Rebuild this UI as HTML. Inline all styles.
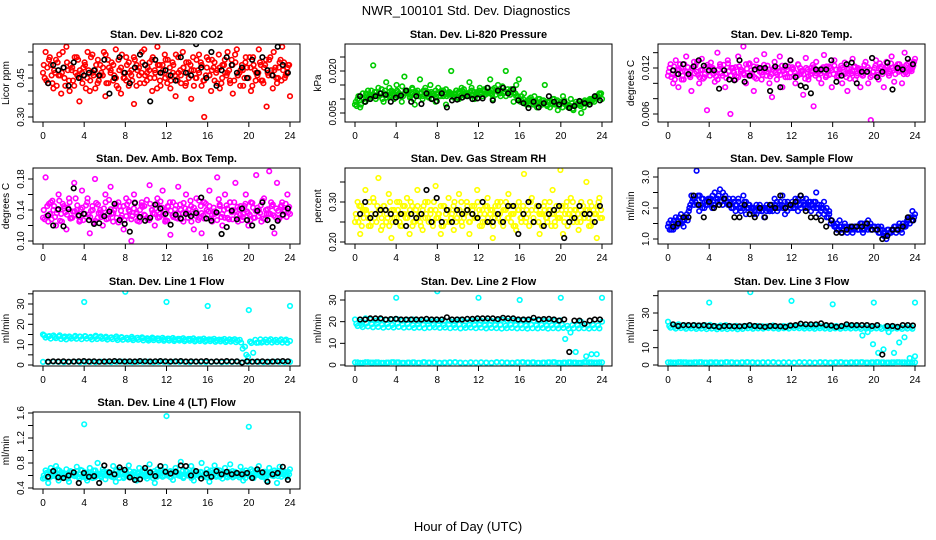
<!DOCTYPE html>
<html><head><meta charset="utf-8">
<style>
html,body{margin:0;padding:0;background:#fff;}
svg{display:block;font-family:"Liberation Sans",Arial,sans-serif;}
</style></head>
<body>
<svg id="chart" width="936" height="540" viewBox="0 0 936 540">
<rect width="936" height="540" fill="#fff"/>
<text x="466" y="15" font-size="13" text-anchor="middle">NWR_100101  Std. Dev. Diagnostics</text>
<text x="468" y="531" font-size="13" text-anchor="middle">Hour of Day (UTC)</text>
</svg>
<script>
// ---- data ----
const xTicks = [0,4,8,12,16,20,24];

const co2Red = [0.47,0.55,0.43,0.50,0.41,0.52,0.46,0.39,0.49,0.57,0.44,0.48,0.42,0.53,0.36,0.47,0.51,0.45,0.40,0.54,0.48,0.43,0.50,0.46,0.38,0.52,0.47,0.44,0.56,0.41,0.49,0.45,0.53,0.42,0.48,0.35,0.50,0.46,0.55,0.43,0.47,0.51,0.40,0.48,0.57,0.44,0.50,0.45,0.52,0.41,0.47,0.38,0.53,0.46,0.49,0.43,0.51,0.37,0.48,0.45,0.54,0.42,0.30,0.49,0.46,0.52,0.44,0.48,0.41,0.50,0.47,0.55,0.43,0.39,0.51,0.46,0.48,0.42,0.53,0.45,0.40,0.50,0.47,0.56,0.44,0.49,0.34,0.52,0.46,0.48,0.43,0.51,0.57,0.45,0.49,0.38];
const co2Red2 = [0.50,0.44,0.52,0.46,0.48,0.42,0.54,0.47,0.45,0.51,0.40,0.49,0.53,0.46,0.48,0.43,0.50,0.55,0.44,0.47,0.41,0.52,0.46,0.49,0.54,0.43,0.48,0.50,0.45,0.52,0.39,0.47,0.44,0.51,0.46,0.53,0.42,0.49,0.47,0.56,0.44,0.48,0.52,0.45,0.41,0.50,0.47,0.54,0.43,0.49,0.51,0.46,0.44,0.48,0.55,0.42,0.47,0.50,0.53,0.45,0.48,0.51,0.44,0.46,0.52,0.40,0.49,0.47,0.54,0.43,0.50,0.46,0.48,0.52,0.44,0.56,0.47,0.50,0.45,0.49,0.53,0.42,0.48,0.46,0.51,0.44,0.50,0.47,0.53,0.41,0.49,0.45,0.52,0.48,0.46,0.50];
const co2Red3 = [0.45,0.49,0.53,0.43,0.47,0.51,0.46,0.55,0.42,0.48,0.50,0.44,0.47,0.52,0.45,0.49,0.41,0.48,0.53,0.46,0.50,0.44,0.47,0.55,0.43,0.49,0.51,0.46,0.42,0.48,0.54,0.45,0.50,0.47,0.44,0.52,0.48,0.43,0.51,0.46,0.49,0.45,0.53,0.47,0.50,0.42,0.48,0.52,0.46,0.44,0.50,0.54,0.47,0.43,0.49,0.51,0.45,0.48,0.42,0.52,0.47,0.50,0.44,0.53,0.46,0.48,0.51,0.43,0.49,0.45,0.52,0.47,0.44,0.50,0.54,0.46,0.42,0.48,0.51,0.45,0.49,0.53,0.44,0.47,0.50,0.43,0.52,0.46,0.48,0.55,0.45,0.49,0.44,0.51,0.47,0.50];
const co2Black = [0.43,0.50,0.48,0.49,0.42,0.51,0.45,0.46,0.47,0.48,0.46,0.52,0.39,0.45,0.53,0.47,0.43,0.49,0.54,0.50,0.36,0.52,0.47,0.48,0.46,0.44,0.53,0.47,0.46,0.58,0.49,0.45,0.55,0.42,0.48,0.53,0.50,0.47,0.49,0.45,0.52,0.47,0.53,0.48,0.46,0.57,0.50,0.47];
const co2Ticks = [0.30,0.35,0.40,0.45,0.50,0.55];
const co2Labels = ["0.30","","","0.45","",""];

const presGreen = [0.0080,0.0100,0.0070,0.0120,0.0090,0.0130,0.0110,0.0220,0.0100,0.0140,0.0120,0.0090,0.0160,0.0110,0.0130,0.0100,0.0150,0.0120,0.0090,0.0180,0.0130,0.0110,0.0140,0.0080,0.0120,0.0170,0.0100,0.0130,0.0110,0.0150,0.0120,0.0090,0.0140,0.0110,0.0130,0.0080,0.0120,0.0200,0.0110,0.0130,0.0100,0.0140,0.0120,0.0110,0.0160,0.0130,0.0100,0.0120,0.0140,0.0110,0.0130,0.0120,0.0170,0.0100,0.0130,0.0150,0.0110,0.0140,0.0200,0.0120,0.0130,0.0090,0.0150,0.0170,0.0110,0.0120,0.0080,0.0100,0.0090,0.0110,0.0070,0.0100,0.0080,0.0150,0.0090,0.0070,0.0100,0.0080,0.0060,0.0090,0.0110,0.0080,0.0070,0.0100,0.0060,0.0090,0.0080,0.0050,0.0070,0.0090,0.0080,0.0100,0.0090,0.0110,0.0120,0.0100];
const presGreen2 = [0.0090,0.0110,0.0080,0.0100,0.0120,0.0105,0.0130,0.0115,0.0125,0.0110,0.0135,0.0120,0.0105,0.0140,0.0125,0.0115,0.0130,0.0110,0.0145,0.0120,0.0125,0.0105,0.0135,0.0115,0.0130,0.0120,0.0110,0.0140,0.0125,0.0115,0.0100,0.0130,0.0120,0.0125,0.0110,0.0135,0.0115,0.0120,0.0105,0.0130,0.0125,0.0115,0.0135,0.0120,0.0110,0.0140,0.0125,0.0115,0.0130,0.0120,0.0135,0.0140,0.0125,0.0115,0.0140,0.0130,0.0120,0.0145,0.0125,0.0135,0.0115,0.0130,0.0120,0.0110,0.0090,0.0100,0.0085,0.0095,0.0105,0.0080,0.0090,0.0100,0.0085,0.0095,0.0080,0.0090,0.0085,0.0100,0.0090,0.0075,0.0085,0.0095,0.0080,0.0070,0.0085,0.0075,0.0080,0.0090,0.0080,0.0095,0.0085,0.0100,0.0095,0.0105,0.0110,0.0115];
const presGreen3 = [0.0075,0.0095,0.0105,0.0090,0.0110,0.0100,0.0115,0.0125,0.0110,0.0120,0.0100,0.0130,0.0115,0.0110,0.0120,0.0105,0.0125,0.0115,0.0110,0.0130,0.0120,0.0115,0.0100,0.0125,0.0110,0.0120,0.0130,0.0115,0.0105,0.0125,0.0115,0.0120,0.0110,0.0130,0.0120,0.0110,0.0125,0.0115,0.0120,0.0105,0.0120,0.0130,0.0110,0.0120,0.0125,0.0115,0.0110,0.0125,0.0120,0.0130,0.0115,0.0125,0.0120,0.0135,0.0115,0.0125,0.0130,0.0120,0.0110,0.0125,0.0135,0.0120,0.0110,0.0100,0.0095,0.0085,0.0090,0.0080,0.0095,0.0085,0.0090,0.0080,0.0095,0.0085,0.0075,0.0090,0.0080,0.0085,0.0095,0.0080,0.0070,0.0085,0.0080,0.0075,0.0065,0.0080,0.0085,0.0075,0.0090,0.0085,0.0095,0.0090,0.0100,0.0110,0.0105,0.0120];
const presBlack = [0.0110,0.0090,0.0100,0.0110,0.0120,0.0115,0.0090,0.0105,0.0112,0.0130,0.0090,0.0110,0.0082,0.0120,0.0100,0.0092,0.0120,0.0070,0.0095,0.0098,0.0105,0.0110,0.0100,0.0102,0.0102,0.0140,0.0095,0.0130,0.0140,0.0120,0.0135,0.0095,0.0085,0.0068,0.0090,0.0070,0.0085,0.0110,0.0090,0.0080,0.0090,0.0068,0.0075,0.0093,0.0085,0.0080,0.0110,0.0095];
const presTicks = [0.005,0.010,0.015,0.020,0.025];
const presLabels = ["0.005","","","0.020",""];

const tempMag = [0.0110,0.0125,0.0100,0.0130,0.0095,0.0120,0.0105,0.0135,0.0112,0.0090,0.0128,0.0115,0.0100,0.0132,0.0108,0.0065,0.0122,0.0118,0.0102,0.0140,0.0125,0.0110,0.0095,0.0130,0.0060,0.0120,0.0105,0.0135,0.0115,0.0148,0.0100,0.0125,0.0110,0.0090,0.0130,0.0120,0.0105,0.0138,0.0115,0.0100,0.0082,0.0128,0.0112,0.0135,0.0095,0.0120,0.0108,0.0130,0.0118,0.0100,0.0125,0.0112,0.0085,0.0133,0.0105,0.0120,0.0070,0.0128,0.0115,0.0100,0.0137,0.0110,0.0122,0.0095,0.0130,0.0108,0.0118,0.0100,0.0127,0.0090,0.0115,0.0132,0.0105,0.0120,0.0095,0.0110,0.0128,0.0100,0.0052,0.0115,0.0130,0.0105,0.0122,0.0095,0.0128,0.0110,0.0135,0.0102,0.0118,0.0125,0.0100,0.0140,0.0112,0.0128,0.0120,0.0132];
const tempMag2 = [0.0115,0.0108,0.0122,0.0112,0.0118,0.0105,0.0125,0.0115,0.0110,0.0120,0.0113,0.0128,0.0108,0.0118,0.0112,0.0124,0.0110,0.0120,0.0115,0.0105,0.0122,0.0118,0.0112,0.0126,0.0110,0.0116,0.0121,0.0108,0.0118,0.0113,0.0125,0.0110,0.0117,0.0122,0.0106,0.0119,0.0114,0.0124,0.0110,0.0118,0.0112,0.0120,0.0105,0.0116,0.0123,0.0112,0.0118,0.0108,0.0121,0.0114,0.0110,0.0120,0.0116,0.0106,0.0118,0.0112,0.0124,0.0110,0.0117,0.0113,0.0121,0.0108,0.0116,0.0120,0.0112,0.0118,0.0110,0.0123,0.0115,0.0108,0.0119,0.0113,0.0121,0.0110,0.0117,0.0112,0.0124,0.0115,0.0118,0.0110,0.0120,0.0114,0.0126,0.0112,0.0118,0.0122,0.0115,0.0120,0.0112,0.0125,0.0117,0.0121,0.0114,0.0126,0.0118,0.0123];
const tempMag3 = [0.0120,0.0112,0.0105,0.0118,0.0125,0.0110,0.0116,0.0121,0.0108,0.0119,0.0123,0.0111,0.0117,0.0106,0.0121,0.0115,0.0127,0.0112,0.0109,0.0118,0.0113,0.0124,0.0107,0.0116,0.0120,0.0114,0.0109,0.0122,0.0117,0.0111,0.0119,0.0126,0.0113,0.0108,0.0121,0.0115,0.0111,0.0117,0.0123,0.0109,0.0118,0.0114,0.0120,0.0111,0.0116,0.0108,0.0122,0.0114,0.0119,0.0110,0.0124,0.0116,0.0112,0.0120,0.0109,0.0116,0.0121,0.0113,0.0106,0.0119,0.0115,0.0122,0.0111,0.0117,0.0123,0.0109,0.0114,0.0120,0.0112,0.0118,0.0106,0.0116,0.0122,0.0113,0.0119,0.0110,0.0117,0.0121,0.0108,0.0115,0.0123,0.0111,0.0119,0.0116,0.0121,0.0113,0.0126,0.0117,0.0122,0.0115,0.0120,0.0112,0.0124,0.0119,0.0116,0.0128];
const tempBlack = [0.0117,0.0112,0.0125,0.0112,0.0122,0.0130,0.0123,0.0117,0.0117,0.0093,0.0117,0.0105,0.0104,0.0130,0.0102,0.0110,0.0118,0.0120,0.0120,0.0090,0.0122,0.0095,0.0123,0.0130,0.0108,0.0097,0.0095,0.0087,0.0118,0.0118,0.0118,0.0130,0.0102,0.0110,0.0125,0.0127,0.0100,0.0115,0.0115,0.0133,0.0108,0.0115,0.0127,0.0092,0.0120,0.0118,0.0132,0.0125];
const tempTicks = [0.006,0.008,0.010,0.012,0.014];
const tempLabels = ["0.006","","","0.012",""];

const boxMag = [0.130,0.182,0.125,0.150,0.140,0.120,0.160,0.135,0.145,0.115,0.155,0.130,0.175,0.140,0.125,0.165,0.135,0.150,0.110,0.145,0.180,0.130,0.140,0.120,0.160,0.135,0.170,0.125,0.145,0.150,0.130,0.115,0.155,0.140,0.100,0.160,0.135,0.125,0.150,0.145,0.130,0.172,0.140,0.120,0.155,0.135,0.165,0.125,0.145,0.108,0.150,0.130,0.170,0.140,0.125,0.160,0.135,0.145,0.115,0.155,0.130,0.110,0.150,0.140,0.165,0.125,0.135,0.182,0.145,0.120,0.160,0.130,0.150,0.140,0.175,0.125,0.145,0.135,0.160,0.120,0.150,0.130,0.185,0.140,0.125,0.155,0.135,0.190,0.145,0.110,0.175,0.130,0.150,0.140,0.160,0.135];
const boxMag2 = [0.140,0.132,0.148,0.128,0.145,0.136,0.152,0.125,0.142,0.134,0.150,0.130,0.138,0.146,0.127,0.143,0.135,0.155,0.131,0.140,0.126,0.147,0.137,0.133,0.150,0.129,0.141,0.136,0.148,0.124,0.139,0.145,0.132,0.151,0.128,0.142,0.137,0.130,0.146,0.134,0.153,0.127,0.140,0.135,0.148,0.131,0.143,0.138,0.126,0.150,0.133,0.141,0.129,0.147,0.136,0.142,0.130,0.152,0.135,0.139,0.127,0.145,0.133,0.148,0.138,0.129,0.143,0.136,0.154,0.131,0.140,0.146,0.128,0.137,0.150,0.132,0.141,0.127,0.145,0.138,0.134,0.149,0.130,0.143,0.136,0.152,0.128,0.141,0.135,0.147,0.131,0.139,0.144,0.133,0.148,0.137];
const boxMag3 = [0.128,0.145,0.135,0.152,0.131,0.140,0.126,0.148,0.137,0.143,0.129,0.138,0.155,0.132,0.141,0.127,0.146,0.134,0.139,0.124,0.149,0.136,0.131,0.142,0.128,0.153,0.135,0.140,0.130,0.145,0.133,0.127,0.147,0.138,0.132,0.150,0.126,0.140,0.144,0.133,0.128,0.148,0.136,0.142,0.130,0.151,0.134,0.127,0.144,0.139,0.131,0.146,0.135,0.128,0.149,0.137,0.141,0.125,0.143,0.132,0.152,0.136,0.129,0.140,0.145,0.133,0.138,0.127,0.147,0.135,0.130,0.142,0.150,0.128,0.139,0.144,0.134,0.131,0.148,0.136,0.127,0.143,0.139,0.132,0.146,0.129,0.140,0.135,0.150,0.133,0.142,0.128,0.146,0.138,0.131,0.144];
const boxBlack = [0.133,0.120,0.141,0.119,0.141,0.168,0.133,0.135,0.127,0.122,0.123,0.132,0.138,0.148,0.127,0.122,0.112,0.149,0.131,0.126,0.130,0.147,0.142,0.135,0.121,0.134,0.129,0.135,0.132,0.136,0.156,0.129,0.126,0.137,0.109,0.118,0.139,0.128,0.142,0.127,0.120,0.139,0.150,0.127,0.118,0.126,0.134,0.142];
const boxTicks = [0.10,0.12,0.14,0.16,0.18];
const boxLabels = ["0.10","","0.14","","0.18"];

const rhYellow = [0.25,0.30,0.22,0.28,0.33,0.26,0.24,0.31,0.27,0.36,0.23,0.29,0.25,0.32,0.21,0.28,0.26,0.30,0.24,0.27,0.31,0.22,0.29,0.25,0.33,0.27,0.23,0.30,0.26,0.28,0.24,0.34,0.27,0.22,0.29,0.25,0.31,0.26,0.23,0.28,0.32,0.25,0.27,0.30,0.22,0.29,0.26,0.33,0.24,0.28,0.25,0.31,0.27,0.21,0.29,0.26,0.30,0.24,0.28,0.32,0.25,0.27,0.23,0.30,0.26,0.37,0.28,0.24,0.31,0.25,0.29,0.22,0.27,0.30,0.25,0.28,0.33,0.24,0.26,0.38,0.22,0.29,0.27,0.31,0.25,0.28,0.23,0.30,0.26,0.35,0.24,0.29,0.27,0.21,0.31,0.26];
const rhYellow2 = [0.27,0.25,0.29,0.26,0.28,0.24,0.27,0.30,0.25,0.28,0.26,0.29,0.27,0.24,0.28,0.26,0.30,0.25,0.27,0.29,0.26,0.28,0.24,0.27,0.29,0.25,0.28,0.26,0.30,0.27,0.25,0.28,0.26,0.29,0.24,0.27,0.28,0.26,0.29,0.25,0.27,0.30,0.26,0.28,0.25,0.27,0.29,0.26,0.28,0.24,0.27,0.29,0.25,0.28,0.26,0.30,0.27,0.25,0.28,0.26,0.29,0.27,0.24,0.28,0.26,0.29,0.25,0.27,0.30,0.26,0.28,0.25,0.27,0.29,0.26,0.28,0.24,0.27,0.29,0.26,0.28,0.25,0.30,0.27,0.26,0.28,0.25,0.29,0.27,0.26,0.28,0.30,0.25,0.27,0.29,0.26];
const rhYellow3 = [0.26,0.29,0.24,0.28,0.27,0.30,0.25,0.26,0.29,0.27,0.24,0.28,0.26,0.30,0.25,0.27,0.28,0.24,0.29,0.26,0.27,0.30,0.25,0.28,0.26,0.24,0.29,0.27,0.25,0.28,0.30,0.26,0.27,0.24,0.29,0.28,0.25,0.27,0.30,0.26,0.28,0.24,0.27,0.29,0.25,0.28,0.26,0.30,0.27,0.25,0.29,0.26,0.28,0.24,0.27,0.29,0.25,0.28,0.30,0.26,0.27,0.24,0.29,0.28,0.25,0.27,0.26,0.30,0.28,0.25,0.29,0.27,0.24,0.28,0.26,0.30,0.27,0.25,0.28,0.26,0.29,0.27,0.24,0.28,0.30,0.26,0.27,0.25,0.29,0.28,0.26,0.24,0.28,0.27,0.30,0.28];
const rhBlack = [0.27,0.30,0.26,0.27,0.28,0.28,0.27,0.25,0.27,0.24,0.27,0.26,0.27,0.33,0.25,0.31,0.25,0.28,0.25,0.28,0.27,0.28,0.27,0.26,0.30,0.25,0.25,0.27,0.25,0.29,0.29,0.22,0.27,0.30,0.25,0.29,0.24,0.27,0.28,0.29,0.21,0.25,0.26,0.29,0.27,0.27,0.25,0.29];
const rhTicks = [0.20,0.25,0.30,0.35];
const rhLabels = ["0.20","","0.30",""];

const flowBlue = [1.4,1.6,1.3,1.7,1.5,1.8,1.4,1.7,1.9,2.4,2.1,3.2,1.9,2.3,2.0,2.2,2.3,2.0,2.5,2.2,2.6,2.1,2.4,2.2,2.1,2.3,1.9,2.2,2.0,2.4,1.8,2.1,2.0,1.8,2.1,1.9,2.0,1.7,2.1,1.9,2.0,2.3,1.9,2.1,2.4,1.8,2.2,2.0,2.1,2.3,1.9,2.4,2.2,2.0,2.1,1.9,2.0,2.5,1.8,2.1,2.2,1.7,1.9,1.6,1.4,1.3,1.6,1.2,1.5,1.3,1.4,1.2,1.4,1.3,1.5,1.2,1.4,1.6,1.3,1.4,1.3,1.2,1.4,1.1,1.0,1.2,1.3,1.4,1.3,1.5,1.2,1.4,1.6,1.5,1.9,1.8];
const flowBlue2 = [1.5,1.3,1.6,1.4,1.7,1.5,1.6,1.8,2.0,2.2,2.3,2.1,2.4,2.0,2.2,2.1,2.2,2.4,2.1,2.3,2.2,2.5,2.3,2.1,2.2,2.0,2.1,2.3,1.9,2.0,2.2,2.0,1.9,2.0,1.8,2.0,1.9,2.0,1.9,2.0,2.1,2.0,2.2,2.0,2.1,2.2,1.9,2.1,2.2,2.0,2.2,2.1,2.3,2.1,2.0,2.2,2.1,2.2,2.0,1.9,2.0,1.9,1.7,1.5,1.5,1.4,1.3,1.4,1.3,1.4,1.3,1.3,1.3,1.4,1.3,1.5,1.3,1.4,1.4,1.3,1.4,1.3,1.2,1.3,1.2,1.3,1.2,1.3,1.4,1.3,1.4,1.5,1.4,1.6,1.7,1.6];
const flowBlue3 = [1.3,1.5,1.4,1.6,1.5,1.6,1.7,1.6,2.1,2.3,2.2,2.4,2.1,2.3,2.1,2.3,2.3,2.1,2.3,2.4,2.2,2.3,2.2,2.3,2.0,2.2,2.1,2.0,2.1,2.2,2.0,2.1,2.0,1.9,2.0,2.1,1.9,2.0,2.0,1.9,1.9,2.1,2.0,2.2,2.0,2.0,2.1,2.0,2.0,2.1,2.3,2.0,2.1,2.3,2.2,2.1,2.2,2.0,2.1,2.0,1.8,2.0,1.8,1.6,1.4,1.5,1.4,1.3,1.4,1.2,1.3,1.4,1.4,1.3,1.4,1.3,1.5,1.3,1.5,1.4,1.3,1.4,1.3,1.2,1.1,1.3,1.2,1.3,1.2,1.4,1.3,1.4,1.5,1.7,1.6,1.7];
const flowBlack = [1.4,1.5,1.7,1.7,2.4,2.1,1.7,2.2,2.0,2.1,2.3,2.1,1.7,1.7,2.1,1.8,1.7,2.0,1.7,2.1,2.0,2.4,2.0,2.1,2.2,2.4,1.9,1.7,1.7,1.6,1.4,1.6,1.2,1.2,1.3,1.4,1.4,1.4,1.5,1.3,1.3,1.0,1.1,1.3,1.3,1.4,1.7,1.6];
const flowTicks = [1.0,1.5,2.0,2.5,3.0];
const flowLabels = ["1.0","","2.0","","3.0"];

const spikeHours = [4,8,12,16,20,24];

const l1Upper = [15,14,14.5,14,13.5,14,13.8,14,14.2,13.5,13.8,14,13.4,13.6,13.2,13.5,13.3,13,13.4,13.2,12.8,13.1,13,12.7,12.9,12.6,12.8,12.5,12.8,12.4,12.6,12.3,12.5,12.2,12.4,12,12.3,12.1,8,4,6,11,11.5,12,11.8,11.9,12,11.8];
const l1UpperB = [13.5,13,13.2,12.8,12.6,13,12.9,12.7,13,12.6,12.8,12.9,12.5,12.7,12.3,12.4,12.5,12.2,12.4,12.1,12,12.2,12.1,11.9,12,11.8,12,11.7,11.9,11.6,11.8,11.5,11.7,11.4,11.6,11.3,11.5,11.2,11,5,10.8,10.9,11,11.1,11,11.2,11,10.9];
const l1Band2 = [14.5,14.2,13.8,14.6,14,13.7,14.3,13.9,14.1,13.8,14.4,13.6,13.9,13.5,14,13.7,13.4,13.8,13.3,13.6,13.2,13.5,13.1,13.4,13,13.3,12.9,13.2,12.8,13.1,12.7,13,12.6,12.9,12.5,12.8,12.6,12.7,12.4,9,11.5,12.4,12.6,12.5,12.7,12.4,12.6,12.5];
const l1Low = [1.5,1.4,1.6,1.5,1.4,1.5,1.6,1.4,1.5,1.5,1.4,1.6,1.5,1.4,1.5,1.6,1.5,1.4,1.5,1.5,1.6,1.4,1.5,1.5,1.4,1.6,1.5,1.5,1.4,1.6,1.5,1.4,1.5,1.6,1.4,1.5,1.5,1.6,1.4,1.5,1.6,1.5,1.4,1.5,1.6,1.5,1.4,1.5];
const l1Black = [1.6,1.8,1.7,1.8,1.6,1.7,1.8,1.9,1.7,1.8,1.6,1.7,1.8,1.9,1.8,1.7,1.8,1.7,1.9,1.8,1.7,1.8,1.9,1.8,1.7,1.8,1.9,1.7,1.8,1.7,1.8,1.9,1.6,1.8,1.7,1.9,1.7,1.8,1.2,1.8,1.6,1.7,1.8,1.6,1.7,1.8,1.9,1.8];
const l1Spikes = [31,36,31,29,27,29];
const l1Ticks = [0,5,10,15,20,25,30,35];
const l1Labels = ["0","","10","","20","","30",""];

const l2Upper = [21,20,21.5,21,20.5,21,20.8,21,21.2,20.5,20.8,21,20.4,20.6,20.2,20.5,20.3,20.5,20.4,20.2,20.8,20.1,20.5,20.7,20.4,20.6,20.3,20.5,20.8,20.4,20.6,20.3,20.5,20.2,20.4,20.5,20.3,20.1,20.4,20.6,12,15,6,20,4,5,5,20];
const l2Band = [18,17.5,17.8,17.4,17.6,17.2,17.5,17.3,17.6,17.2,17.4,17.1,17.3,17,17.2,17.4,17.1,17.3,17,17.2,16.9,17.1,17.3,17,17.2,16.9,17.1,17,16.8,17,17.1,16.9,17,16.8,17,16.9,17.1,16.8,17,16.9,17.1,16.8,17,16.9,17,16.8,17,16.9];
const l2Band2 = [19,18.5,19.2,18.8,19,18.6,18.9,18.5,19.1,18.7,18.9,18.4,18.8,18.6,18.9,18.5,18.7,18.4,18.8,18.5,18.7,18.3,18.6,18.4,18.7,18.3,18.6,18.4,18.5,18.2,18.6,18.4,18.5,18.2,18.6,18.3,18.5,18.2,18.4,18.3,18.5,18.1,18.4,18.3,18.5,18.2,18.4,18.3];
const l2Low = [1.2,1.0,1.3,1.1,1.2,1.0,1.1,1.3,1.2,1.0,1.1,1.2,1.0,1.3,1.1,1.2,1.0,1.1,1.2,1.3,1.1,1.0,1.2,1.1,1.2,1.1,1.0,1.3,1.2,1.1,1.0,1.2,1.3,1.1,1.2,1.0,1.1,1.2,1.3,1.0,1.1,1.2,1.1,1.0,1.3,1.2,1.1,1.2];
const l2Black = [21,21,21.5,21.5,21.5,21,21.2,21.3,21,21,21,21,21,21.3,21,21,21,22,21,21,21,21.3,21.3,21.5,21.5,21.5,21.5,21.2,21.8,21.5,21.5,21,21,21,21.8,21,21.2,21.3,21,20.5,21,6,20.5,20.5,19,20.5,21,21];
const l2Spikes = [31,34,31,30,31,31];
const l2Ticks = [0,10,20,30];
const l2Labels = ["0","10","20","30"];

const l3Upper = [25,23,23.5,23,22.5,23,22.8,23,23.2,22.5,22.8,23,22.4,22.6,22.2,22.5,22.3,22.5,22.4,22.2,22.8,22.1,22.5,22.7,22.4,22.6,22.3,22.5,22.8,22.4,22.6,22.3,22.5,22.2,22.4,22.5,22.3,17,19,12,7,9,19,7,13,16,4,5];
const l3Band = [21.5,21,21.3,20.9,21.1,20.8,21,20.7,21,20.6,20.9,20.7,21,20.6,20.8,21.2,20.9,21.1,21,21.3,21.1,20.9,21.2,21,21.3,21.2,21,21.1,20.9,21.2,21,20.8,21.1,20.9,21.2,21,21.1,20.8,21,20.9,21.1,20.8,21,20.9,21,20.8,21,20.9];
const l3Band2 = [22.5,22,22.3,21.9,22.2,21.8,22.1,21.9,22.2,21.7,22,21.8,22.1,21.7,21.9,22.2,22,22.2,22.1,22.3,22.1,21.9,22.2,22,22.3,22.2,22,22.1,21.9,22.2,22,21.8,22.1,21.9,22.2,22,22.1,21.8,22,21.9,22.1,21.8,22,21.9,22,21.8,22,21.9];
const l3Low = [1.5,1.4,1.6,1.5,1.4,1.5,1.6,1.4,1.5,1.5,1.4,1.6,1.5,1.4,1.5,1.6,1.5,1.4,1.5,1.5,1.6,1.4,1.5,1.5,1.4,1.6,1.5,1.5,1.4,1.6,1.5,1.4,1.5,1.6,1.4,1.5,1.5,1.6,1.4,1.5,1.6,1.5,1.4,1.5,1.6,1.5,1.4,1.5];
const l3Black = [23.5,22.5,23,23,23,22.8,23,22.5,22.5,22,22.5,22.5,22.3,22.3,22.5,23,22.5,22.3,22,22.5,22.5,22.3,22,22.8,23,23.8,23.5,23.5,23.5,24,23,22.8,22,22.5,23.5,23,23,23,23,22.5,23,6,22.5,22.5,22,23,23,22.8];
const l3Spikes = [36,42,37,35,36,36];
const l3Ticks = [0,10,20,30,40];
const l3Labels = ["0","10","","30",""];

const l4Cyan = [0.55,0.68,0.48,0.72,0.60,0.75,0.52,0.65,0.58,0.70,0.50,0.66,0.62,0.74,0.55,0.68,0.60,0.52,0.72,0.63,0.57,0.80,0.62,0.70,0.54,0.66,0.60,0.75,0.50,0.64,0.70,0.56,0.62,0.76,0.58,0.66,0.52,0.72,0.60,0.68,0.55,0.78,0.62,0.48,0.70,0.64,0.58,0.74,0.60,0.67,0.53,0.72,0.62,0.82,0.56,0.68,0.60,0.75,0.52,0.66,0.62,0.80,0.58,0.70,0.50,0.64,0.76,0.60,0.68,0.55,0.72,0.62,0.78,0.57,0.66,0.60,0.74,0.52,0.68,0.62,0.70,0.56,0.64,0.75,0.58,0.66,0.52,0.72,0.60,0.68,0.48,0.74,0.62,0.66,0.58,0.70];
const l4Cyan2 = [0.60,0.64,0.56,0.66,0.62,0.58,0.68,0.60,0.63,0.57,0.66,0.61,0.59,0.67,0.62,0.58,0.65,0.60,0.64,0.56,0.68,0.61,0.59,0.66,0.62,0.60,0.64,0.57,0.67,0.61,0.63,0.58,0.66,0.60,0.62,0.65,0.57,0.63,0.61,0.66,0.59,0.64,0.60,0.67,0.58,0.62,0.65,0.60,0.63,0.58,0.66,0.61,0.64,0.59,0.67,0.62,0.60,0.65,0.58,0.63,0.61,0.66,0.59,0.64,0.60,0.68,0.62,0.58,0.65,0.61,0.63,0.59,0.66,0.60,0.64,0.62,0.57,0.65,0.61,0.63,0.59,0.67,0.60,0.64,0.62,0.58,0.66,0.61,0.63,0.60,0.65,0.59,0.64,0.62,0.60,0.66];
const l4Cyan3 = [0.56,0.62,0.66,0.59,0.63,0.70,0.57,0.64,0.61,0.55,0.67,0.60,0.63,0.58,0.69,0.62,0.56,0.65,0.61,0.68,0.59,0.63,0.57,0.66,0.60,0.64,0.58,0.62,0.69,0.56,0.65,0.61,0.59,0.67,0.63,0.57,0.64,0.60,0.68,0.58,0.62,0.66,0.56,0.63,0.60,0.69,0.59,0.65,0.61,0.57,0.64,0.67,0.60,0.62,0.58,0.66,0.63,0.56,0.68,0.61,0.59,0.64,0.62,0.57,0.66,0.60,0.63,0.69,0.58,0.62,0.65,0.57,0.61,0.67,0.59,0.63,0.60,0.66,0.56,0.64,0.62,0.58,0.68,0.61,0.60,0.65,0.57,0.63,0.66,0.59,0.62,0.67,0.58,0.64,0.61,0.62];
const l4Black = [0.58,0.67,0.57,0.56,0.60,0.65,0.48,0.64,0.58,0.59,0.48,0.76,0.65,0.62,0.73,0.69,0.57,0.53,0.54,0.72,0.65,0.59,0.75,0.66,0.63,0.66,0.76,0.75,0.60,0.67,0.55,0.63,0.58,0.67,0.62,0.66,0.62,0.64,0.62,0.64,0.56,0.70,0.65,0.50,0.62,0.64,0.74,0.53];
const l4Spikes = [1.42,1.55,1.38];
const l4SpikeHours = [4,12,20];
const l4Ticks = [0.4,0.6,0.8,1.0,1.2,1.4,1.6];
const l4Labels = ["0.4","","0.8","","1.2","","1.6"];

// ---- drawing ----
const NS = "http://www.w3.org/2000/svg";
const svg = document.getElementById("chart");
const cols = [[33,300],[345,612],[658,925]];
const rows = [[44,122],[168,244],[291,366],[412,489]];

function mk(tag, attrs, parent){
  const e = document.createElementNS(NS, tag);
  for (const k in attrs) e.setAttribute(k, attrs[k]);
  (parent||svg).appendChild(e);
  return e;
}
function evenHours(n){ const h=[]; for(let i=0;i<n;i++) h.push(i*24/(n-1)); return h; }
function shiftHours(n, f){ const h=[]; for(let i=0;i<n;i++) h.push((i+f)*24/n); return h; }
function offsetHours(n){ const h=[]; for(let i=0;i<n;i++) h.push(0.5+i*23.3/(n-1)); return h; }

function panel(id, col, row, title, ylab, cal, ticks, labels, series){
  const [L,R] = cols[col], [T,B] = rows[row];
  const g = mk("g", {});
  
  
  const xs = h => (L+10) + h*((R-10)-(L+10))/24;
  const ys = v => cal[1] + (v-cal[0])*(cal[3]-cal[1])/(cal[2]-cal[0]);
  const clip = mk("clipPath", {id:"clip-"+id}, g);
  mk("rect", {x:L, y:T, width:R-L, height:B-T}, clip);
  const pts = mk("g", {"clip-path":"url(#clip-"+id+")"}, g);
  
  
  series.forEach(s=>{
    const hrs = s.hours || (s.shift!==undefined ? shiftHours(s.values.length, s.shift) : evenHours(s.values.length));
    s.values.forEach((v,i)=>{
      const c = mk("circle", {cx:xs(hrs[i]).toFixed(1), cy:ys(v).toFixed(1), r:2.3, fill:"none", stroke:s.color, "stroke-width":1.6}, pts);
      
      
    });
  });
  const box = mk("rect", {x:L, y:T, width:R-L, height:B-T, fill:"none", stroke:"#000", "stroke-width":1}, g);
  
  
  const t = mk("text", {x:(L+R)/2, y:T-6, "font-size":11, "font-weight":"bold", "text-anchor":"middle"}, g);
  t.textContent = title;
  
  
  mk("line", {x1:xs(0), x2:xs(24), y1:B, y2:B, stroke:"#000"}, g);
  xTicks.forEach(h=>{
    mk("line", {x1:xs(h), x2:xs(h), y1:B, y2:B+5, stroke:"#000"}, g);
    const tx = mk("text", {x:xs(h), y:B+17, "font-size":10, "text-anchor":"middle"}, g);
    tx.textContent = h;
    
    
  });
  mk("line", {x1:L, x2:L, y1:ys(ticks[0]), y2:ys(ticks[ticks.length-1]), stroke:"#000"}, g);
  ticks.forEach((v,i)=>{
    const y = ys(v);
    mk("line", {x1:L-5, x2:L, y1:y, y2:y, stroke:"#000"}, g);
    if (labels[i]) {
      const ty = mk("text", {x:L-9, y:y, "font-size":10, "text-anchor":"middle", transform:"rotate(-90 "+(L-9)+" "+y+")"}, g);
      ty.textContent = labels[i];
      
      
    }
  });
  const yl = mk("text", {x:L-24, y:(T+B)/2, "font-size":10, "text-anchor":"middle", transform:"rotate(-90 "+(L-24)+" "+((T+B)/2)+")"}, g);
  yl.textContent = ylab;
  
  
}

panel("co2",0,0,"Stan. Dev. Li-820 CO2","Licor ppm",[0.30,117,0.45,78],co2Ticks,co2Labels,
  [{name:"co2",values:co2Red,color:"#ff0000"},{name:"co2",values:co2Red2,shift:0.33,color:"#ff0000"},{name:"co2",values:co2Red3,shift:0.66,color:"#ff0000"},
   {name:"co2-ref",values:co2Black,hours:offsetHours(co2Black.length),color:"#000"}]);
panel("pressure",1,0,"Stan. Dev. Li-820 Pressure","kPa",[0.005,113,0.020,71],presTicks,presLabels,
  [{name:"pressure",values:presGreen,color:"#00cc00"},{name:"pressure",values:presGreen2,shift:0.33,color:"#00cc00"},{name:"pressure",values:presGreen3,shift:0.66,color:"#00cc00"},
   {name:"pressure-ref",values:presBlack,hours:offsetHours(presBlack.length),color:"#000"}]);
panel("temp",2,0,"Stan. Dev. Li-820 Temp.","degrees C",[0.006,114,0.012,68],tempTicks,tempLabels,
  [{name:"temp",values:tempMag,color:"#ff00ff"},{name:"temp",values:tempMag2,shift:0.33,color:"#ff00ff"},{name:"temp",values:tempMag3,shift:0.66,color:"#ff00ff"},
   {name:"temp-ref",values:tempBlack,hours:offsetHours(tempBlack.length),color:"#000"}]);
panel("boxtemp",0,1,"Stan. Dev. Amb. Box Temp.","degrees C",[0.10,241,0.18,179],boxTicks,boxLabels,
  [{name:"boxtemp",values:boxMag,color:"#ff00ff"},{name:"boxtemp",values:boxMag2,shift:0.33,color:"#ff00ff"},{name:"boxtemp",values:boxMag3,shift:0.66,color:"#ff00ff"},
   {name:"boxtemp-ref",values:boxBlack,hours:offsetHours(boxBlack.length),color:"#000"}]);
panel("rh",1,1,"Stan. Dev. Gas Stream RH","percent",[0.20,242,0.30,202],rhTicks,rhLabels,
  [{name:"rh",values:rhYellow,color:"#ffff00"},{name:"rh",values:rhYellow2,shift:0.33,color:"#ffff00"},{name:"rh",values:rhYellow3,shift:0.66,color:"#ffff00"},
   {name:"rh-ref",values:rhBlack,hours:offsetHours(rhBlack.length),color:"#000"}]);
panel("sampleflow",2,1,"Stan. Dev. Sample Flow","ml/min",[1.0,239,3.0,177],flowTicks,flowLabels,
  [{name:"sampleflow",values:flowBlue,color:"#0000ff"},{name:"sampleflow",values:flowBlue2,shift:0.33,color:"#0000ff"},{name:"sampleflow",values:flowBlue3,shift:0.66,color:"#0000ff"},
   {name:"sampleflow-ref",values:flowBlack,hours:offsetHours(flowBlack.length),color:"#000"}]);
panel("line1",0,2,"Stan. Dev. Line 1 Flow","ml/min",[0,365,30,304],l1Ticks,l1Labels,
  [{name:"line1-band",values:l1UpperB,shift:0.5,color:"#00ffff"},{name:"line1-band",values:l1Band2,shift:0.25,color:"#00ffff"},{name:"line1",values:l1Upper,color:"#00ffff"},
   {name:"line1-low",values:l1Low,color:"#00ffff"},{name:"line1-spike",values:l1Spikes,hours:spikeHours,color:"#00ffff"},
   {name:"line1-ref",values:l1Black,hours:offsetHours(l1Black.length),color:"#000"}]);
panel("line2",1,2,"Stan. Dev. Line 2 Flow","ml/min",[0,365,30,300],l2Ticks,l2Labels,
  [{name:"line2-band",values:l2Band,shift:0.5,color:"#00ffff"},{name:"line2-band",values:l2Band2,shift:0.25,color:"#00ffff"},{name:"line2",values:l2Upper,color:"#00ffff"},
   {name:"line2-low",values:l2Low,color:"#00ffff"},{name:"line2-low",values:l2Low,shift:0.5,color:"#00ffff"},{name:"line2-spike",values:l2Spikes,hours:spikeHours,color:"#00ffff"},
   {name:"line2-ref",values:l2Black,hours:offsetHours(l2Black.length),color:"#000"}]);
panel("line3",2,2,"Stan. Dev. Line 3 Flow","ml/min",[0,365,30,313],l3Ticks,l3Labels,
  [{name:"line3-band",values:l3Band,shift:0.5,color:"#00ffff"},{name:"line3-band",values:l3Band2,shift:0.25,color:"#00ffff"},{name:"line3",values:l3Upper,color:"#00ffff"},
   {name:"line3-low",values:l3Low,color:"#00ffff"},{name:"line3-low",values:l3Low,shift:0.5,color:"#00ffff"},{name:"line3-spike",values:l3Spikes,hours:spikeHours,color:"#00ffff"},
   {name:"line3-ref",values:l3Black,hours:offsetHours(l3Black.length),color:"#000"}]);
panel("line4",0,3,"Stan. Dev. Line 4 (LT) Flow","ml/min",[0.4,488,1.6,413],l4Ticks,l4Labels,
  [{name:"line4",values:l4Cyan,color:"#00ffff"},{name:"line4",values:l4Cyan2,shift:0.33,color:"#00ffff"},{name:"line4",values:l4Cyan3,shift:0.66,color:"#00ffff"},
   {name:"line4-spike",values:l4Spikes,hours:l4SpikeHours,color:"#00ffff"},
   {name:"line4-ref",values:l4Black,hours:offsetHours(l4Black.length),color:"#000"}]);
</script>
</body></html>
